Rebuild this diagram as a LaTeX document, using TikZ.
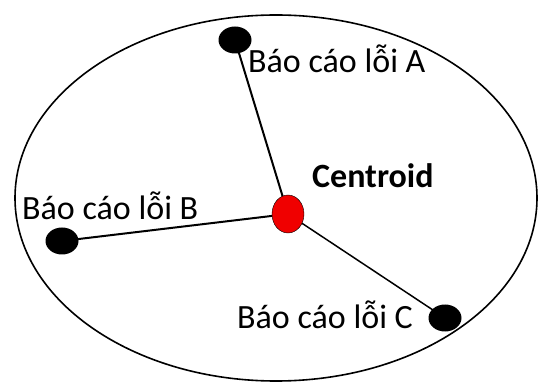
\documentclass[tikz,border=0pt]{standalone}
\usepackage{fontspec}
\setmainfont{Carlito}
\usepackage{tikz}
\usetikzlibrary{positioning,shapes.geometric}
\usepackage{xcolor}
\definecolor{red}{HTML}{F00000}

\tikzset{
  report/.style={ellipse, fill=black, inner sep=0pt, minimum width=33pt, minimum height=27pt},
  tag/.style={anchor=base west, inner sep=0pt, font=\fontsize{34}{38}\selectfont},
  link/.style={line width=2pt}
}

\begin{document}
\begin{tikzpicture}[x=1pt,y=1pt]
  \useasboundingbox (0,0) rectangle (538,383);
  % OUTER: the cluster boundary
  \draw[line width=1.6pt] (276,185) ellipse [x radius=261, y radius=183];
  % CENTER + the three error reports
  \coordinate (cc) at (288,169);
  \coordinate (ca) at (235,343);
  \coordinate (cb) at (62,142);
  \coordinate (cx) at (445,65);
  \draw[link] (cc) -- (ca);
  \draw[link] (cc) -- (cb);
  \draw[link, line width=1.5pt] (cc) -- (cx);
  \node[ellipse, draw=black, fill=red, inner sep=0pt, minimum width=32pt, minimum height=38pt] (c) at (cc) {};
  \node[report] (a) at (ca) {};
  \node[report] (b) at (cb) {};
  \node[report] (x) at (cx) {};
  % LABELS
  \node[tag] (la) at (248,310) {Báo cáo lỗi A};
  \node[tag] (lb) at (22,163) {Báo cáo lỗi B};
  \node[tag] (lx) at (237,55) {Báo cáo lỗi C};
  \node[tag, font=\fontsize{34}{38}\selectfont\bfseries] (lc) at (312,195) {Centroid};
\end{tikzpicture}
\end{document}
